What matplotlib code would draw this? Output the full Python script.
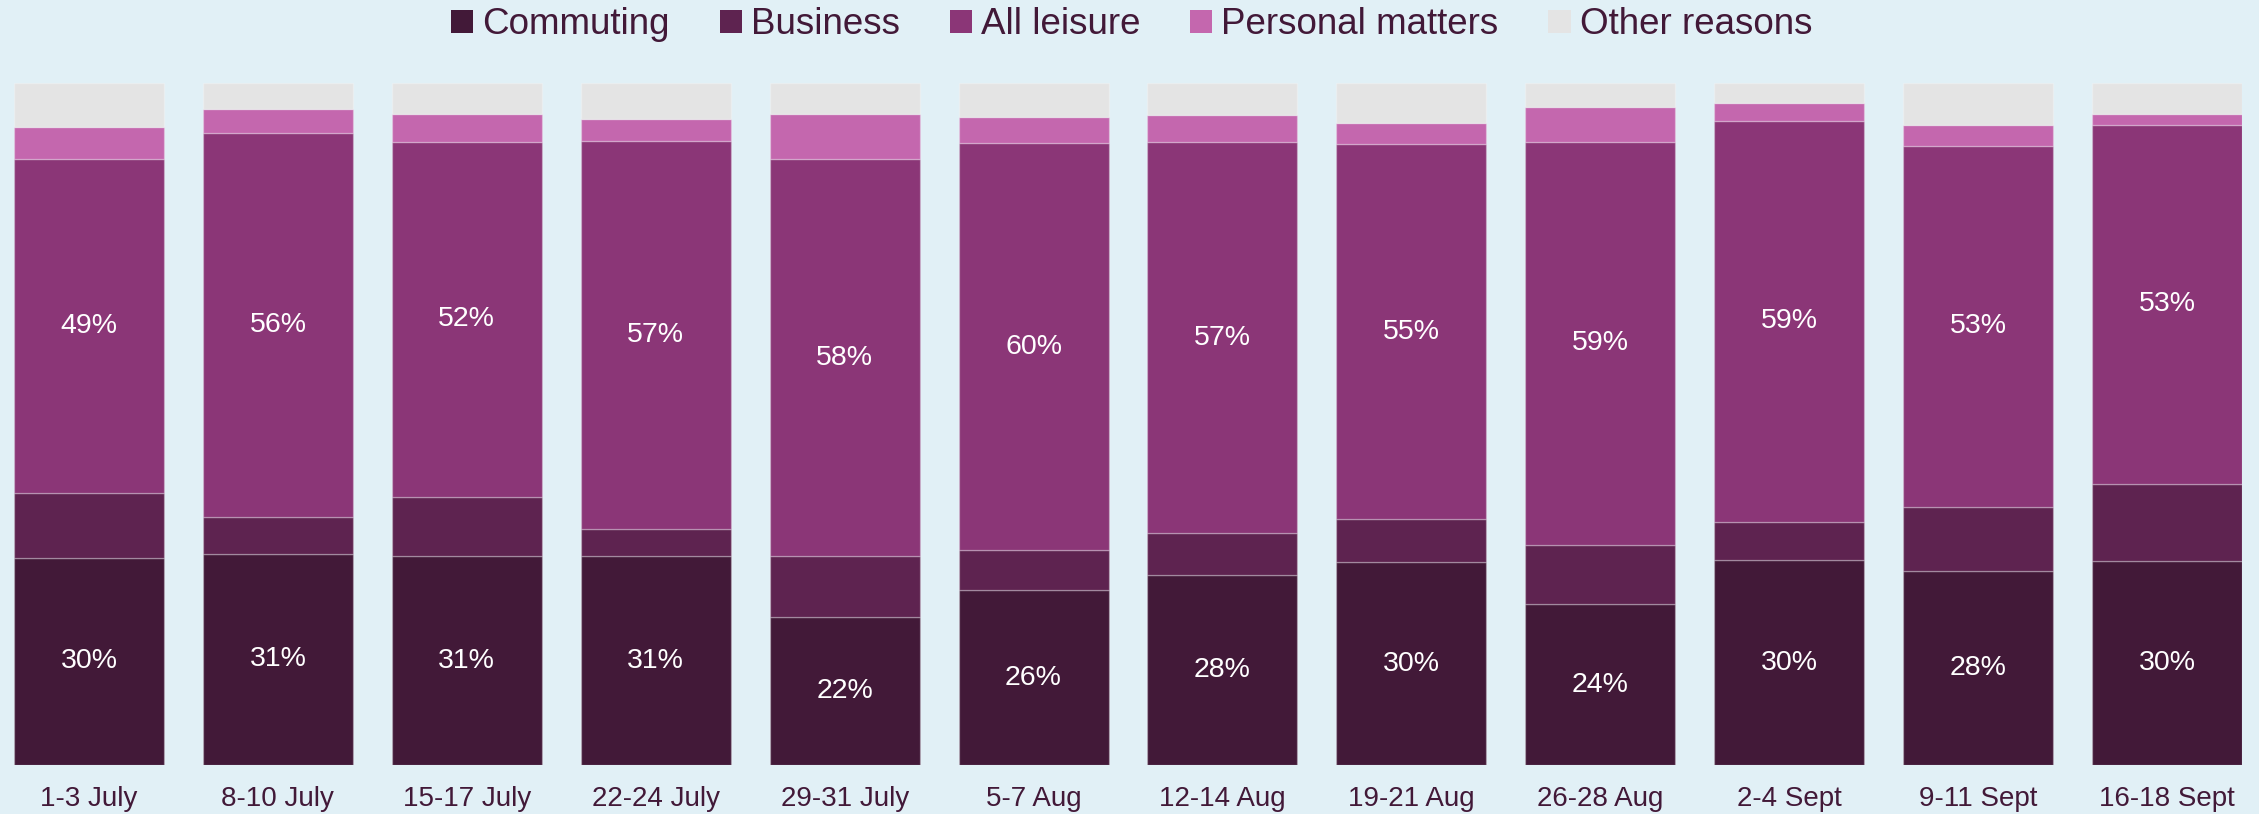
import matplotlib.pyplot as plt
from matplotlib.patches import Patch
import numpy as np

plt.rcParams['font.family'] = ['Liberation Sans', 'DejaVu Sans']

# Data (share of trips, %)
weeks = ["1-3 July", "8-10 July", "15-17 July", "22-24 July", "29-31 July", "5-7 Aug",
         "12-14 Aug", "19-21 Aug", "26-28 Aug", "2-4 Sept", "9-11 Sept", "16-18 Sept"]
commuting = [30.4, 31.0, 30.6, 30.6, 21.7, 25.6, 27.8, 29.7, 23.6, 30.0, 28.4, 29.9]
business = [9.5, 5.3, 8.7, 4.0, 8.9, 5.9, 6.2, 6.3, 8.7, 5.7, 9.5, 11.3]
leisure = [48.9, 56.3, 52.1, 56.9, 58.3, 59.7, 57.3, 55.1, 59.1, 58.8, 52.8, 52.7]
personal = [4.8, 3.6, 4.0, 3.2, 6.6, 3.8, 4.0, 3.1, 5.1, 2.6, 3.1, 1.6]
other = [6.4, 3.8, 4.6, 5.3, 4.5, 5.0, 4.7, 5.8, 3.5, 2.9, 6.2, 4.5]

series = [("Commuting", commuting, "#421938"),
          ("Business", business, "#5E2350"),
          ("All leisure", leisure, "#8B3677"),
          ("Personal matters", personal, "#C467AE"),
          ("Other reasons", other, "#E4E4E4")]

bg = "#E1F0F6"
txt = "#421938"

fig = plt.figure(figsize=(22.59, 8.14), dpi=100, facecolor=bg)
ax = fig.add_axes([14 / 2259, 1 - 765 / 814, (2242 - 14) / 2259, (765 - 83) / 814])
ax.set_facecolor(bg)

x = np.arange(len(weeks))
width = 0.794
bottom = np.zeros(len(weeks))
for name, vals, col in series:
    vals = np.array(vals)
    ax.bar(x, vals, width, bottom=bottom, color=col, label=name,
           edgecolor=(1, 1, 1, 0.25), linewidth=1.0)
    if name in ("Commuting", "All leisure"):
        for xi, b, v in zip(x, bottom, vals):
            ax.text(xi, b + v / 2, f"{v:.0f}%", ha="center", va="center",
                    color="white", fontsize=20.5)
    bottom += vals

ax.set_xlim(-0.397, len(weeks) - 1 + 0.397)
ax.set_ylim(0, 100)
ax.set_xticks(x)
ax.set_xticklabels(weeks, fontsize=20, color=txt)
ax.tick_params(axis="x", length=0, pad=15)
ax.set_yticks([])
for s in ax.spines.values():
    s.set_visible(False)

handles = [Patch(facecolor=c, edgecolor="none", label=n) for n, _, c in series]
leg = fig.legend(handles=handles, loc="upper center", bbox_to_anchor=(0.501, 1.0),
                 ncol=5, frameon=False, fontsize=26.5, handlelength=0.6,
                 handleheight=0.6, handletextpad=0.25, columnspacing=1.35,
                 borderaxespad=0.1, borderpad=0.1)
for t in leg.get_texts():
    t.set_color(txt)

fig.savefig("out.png", dpi=100, facecolor=bg)
